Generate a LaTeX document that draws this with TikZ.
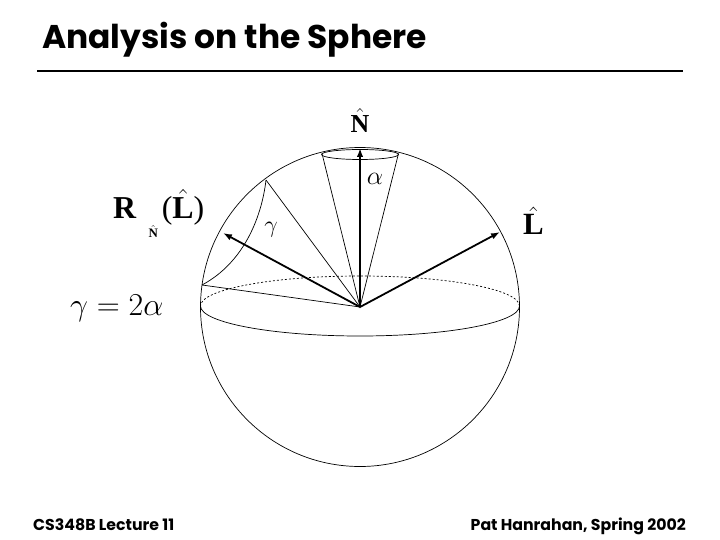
\RequirePackage{fix-cm}
\documentclass[tikz,border=0pt]{standalone}
\usepackage{fontspec}
\setmainfont{Liberation Serif}
\newfontfamily\slidefont{Poppins}
\usetikzlibrary{arrows.meta}
\begin{document}
\begin{tikzpicture}[
			x = 1bp,
			y = -1bp,
			thinline/.style = {line width = 0.7bp},
			vec/.style = {line width = 1.8bp, -{Latex[length=9bp,width=6.5bp]}},
			every node/.style = {inner sep = 0pt}
			]

			\useasboundingbox (0,0) rectangle (720,540);

			\node[anchor=base west,font=\slidefont\bfseries\fontsize{33}{38}\selectfont] (title) at (42,49) {Analysis on the Sphere};
			\draw[line width=2bp] (37,71) coordinate (ruleL) -- (683,71) coordinate (ruleR);

			\coordinate (O) at (360,307);
			\draw[thinline] (O) circle [radius=159.5bp];
			\draw[thinline] (200.5,306) arc [start angle=180, end angle=360, x radius=159.5bp, y radius=30bp];
			\draw[thinline,dash pattern=on 2bp off 2bp] (519.5,306) arc [start angle=0, end angle=180, x radius=159.5bp, y radius=30bp];

			\draw[thinline] (360,154.5) ellipse [x radius=38.5bp, y radius=5bp];
			\coordinate (a1) at (322,153.5);
			\coordinate (a2) at (398.5,153.5);
			\draw[thinline] (a1) -- (O) -- (a2);

			\coordinate (g1) at (266,180);
			\coordinate (g2) at (202,285);
			\draw[thinline] (g1) -- (O) -- (g2);
			\draw[thinline] (g1) .. controls (262,215) and (245,262) .. (g2);

			\coordinate (Ntip) at (360,148);
			\coordinate (Ltip) at (500,232);
			\coordinate (Rtip) at (223,233);
			\draw[vec] (O) -- (Ntip);
			\draw[vec] (O) -- (Ltip);
			\draw[vec] (O) -- (Rtip);

			\node[anchor=base,font=\fontsize{26}{30}\selectfont] (Nlab) at (360,132.3) {$\hat{\textbf{N}}$};
			\node[anchor=base,font=\fontsize{31}{36}\selectfont] (Llab) at (533.5,235) {$\hat{\textbf{L}}$};
			\node[anchor=base west,font=\fontsize{32}{36}\selectfont] (Rlab) at (113,218.3) {\textbf{R}\hspace{12bp}\raisebox{-19bp}{\fontsize{13}{13}\selectfont$\hat{\textbf{N}}$}\hspace{4bp}($\hat{\textbf{L}}$)};
			\node[anchor=base west,font=\fontsize{32}{36}\selectfont] (rule) at (70,315) {$\gamma=2\alpha$};
			\node[font=\fontsize{26}{30}\selectfont] (alab) at (375,179) {$\alpha$};
			\node[font=\fontsize{24}{28}\selectfont] (glab) at (271,230) {$\gamma$};

			\node[anchor=base west,font=\slidefont\bfseries\fontsize{15.8}{18}\selectfont] (course) at (33,530) {CS348B Lecture 11};
			\node[anchor=base east,font=\slidefont\bfseries\fontsize{15.8}{18}\selectfont] (author) at (686,530) {Pat Hanrahan, Spring 2002};

		\end{tikzpicture}
\end{document}
